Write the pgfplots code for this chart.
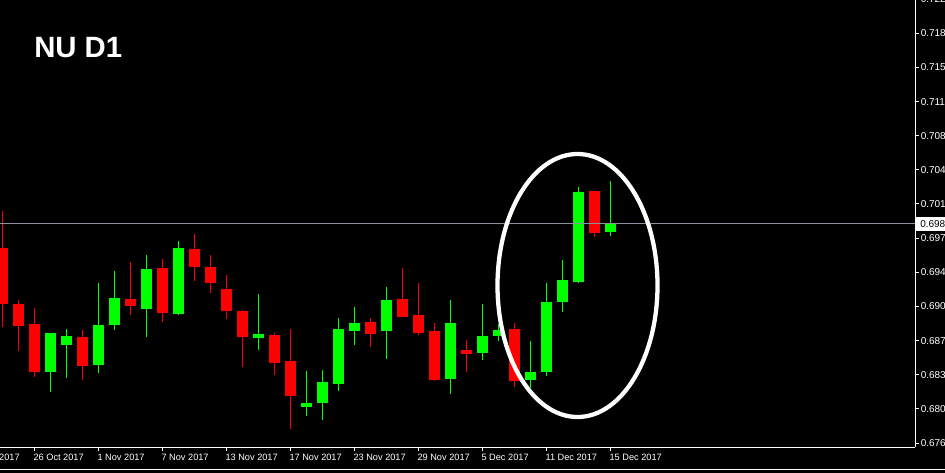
\documentclass[border=0pt]{standalone}
\usepackage{fontspec}
\setmainfont{Liberation Sans}
\usepackage{pgfplots}
\usepackage{pgfplotstable}
\pgfplotsset{compat=1.18}
\definecolor{cred}{RGB}{255,0,0}
\definecolor{cgreen}{RGB}{0,255,0}
\definecolor{bidgray}{RGB}{140,146,158}

% red (bearish) candles: k open high low close
\pgfplotstableread{
k o h l c
0 0.69652 0.70028 0.68842 0.69078
1 0.69075 0.69116 0.68596 0.68852
2 0.68870 0.69034 0.68330 0.68381
5 0.68737 0.68808 0.68296 0.68442
8 0.69126 0.69505 0.68965 0.69057
10 0.69444 0.69533 0.68893 0.68986
12 0.69639 0.69793 0.69314 0.69457
13 0.69454 0.69577 0.69191 0.69293
14 0.69229 0.69372 0.68924 0.69006
15 0.69003 0.69013 0.68432 0.68740
17 0.68757 0.68778 0.68350 0.68473
18 0.68491 0.68819 0.67797 0.68135
23 0.68890 0.68931 0.68637 0.68770
25 0.69126 0.69444 0.68945 0.68945
26 0.68962 0.69290 0.68760 0.68781
27 0.68798 0.68880 0.68289 0.68299
29 0.68603 0.68706 0.68381 0.68565
32 0.68819 0.68880 0.68227 0.68289
37 0.70233 0.70233 0.69765 0.69806
}\redtab

% green (bullish) candles: k open high low close
\pgfplotstableread{
k o h l c
3 0.68381 0.68778 0.68176 0.68778
4 0.68658 0.68819 0.68319 0.68747
6 0.68453 0.69290 0.68371 0.68860
7 0.68863 0.69413 0.68811 0.69136
9 0.69027 0.69577 0.68740 0.69434
11 0.68975 0.69721 0.68965 0.69649
16 0.68729 0.69177 0.68606 0.68767
19 0.68022 0.68388 0.67930 0.68063
20 0.68063 0.68398 0.67889 0.68278
21 0.68258 0.68931 0.68186 0.68819
22 0.68801 0.69044 0.68658 0.68880
24 0.68801 0.69249 0.68514 0.69116
28 0.68309 0.69116 0.68155 0.68880
30 0.68576 0.69075 0.68504 0.68747
31 0.68750 0.68870 0.68699 0.68808
33 0.68299 0.68696 0.68217 0.68381
34 0.68381 0.69290 0.68340 0.69095
35 0.69098 0.69526 0.68996 0.69321
36 0.69304 0.70274 0.69293 0.70223
38 0.69816 0.70336 0.69775 0.69895
}\greentab

\begin{document}
\begin{tikzpicture}
\fill[black] (-40pt,-10pt) rectangle (720pt,370pt);
\begin{axis}[
  at={(-30pt,18.75pt)}, anchor=south west,
  scale only axis, width=716.25pt, height=342.75pt,
  xmin=-2.644, xmax=57.044, ymin=0.67609, ymax=0.722937,
  axis x line*=bottom, axis y line*=right,
  axis line style={draw=white, line width=0.75pt, -},
  tick align=outside, major tick length=3pt,
  tick style={draw=white, line width=0.75pt},
  minor tick num=0,
  xtick={-2,2,6,10,14,18,22,26,30,34,38},
  xticklabels={20 Oct 2017,26 Oct 2017,1 Nov 2017,7 Nov 2017,13 Nov 2017,17 Nov 2017,23 Nov 2017,29 Nov 2017,5 Dec 2017,11 Dec 2017,15 Dec 2017},
  ytick={0.6765,0.6800,0.6835,0.6870,0.6905,0.6940,0.6975,0.7010,0.7045,0.7080,0.7115,0.7150,0.7185,0.7220},
  yticklabels={0.67650,0.68000,0.68350,0.68700,0.69050,0.69400,0.69750,0.70100,0.70450,0.70800,0.71150,0.71500,0.71850,0.72200},
  tick label style={font=\fontsize{6.9}{8}\selectfont, text=white},
  xticklabel style={anchor=west, inner sep=0pt, xshift=-0.75pt, yshift=-4.5pt},
  yticklabel style={anchor=west, inner sep=0pt, xshift=1.1pt, font=\fontsize{7.5}{9}\selectfont},
  /pgf/number format/assume math mode=true,
  clip=true,
]
% wicks
\addplot[draw=none, mark=none, forget plot, error bars/.cd, y dir=plus, y explicit, error mark=none,
  error bar style={draw=cred, line width=0.75pt}]
  table[x=k, y=l, y error plus expr={\thisrow{h}-\thisrow{l}}] {\redtab};
\addplot[draw=none, mark=none, forget plot, error bars/.cd, y dir=plus, y explicit, error mark=none,
  error bar style={draw=cgreen, line width=0.75pt}]
  table[x=k, y=l, y error plus expr={\thisrow{h}-\thisrow{l}}] {\greentab};
% bodies
\addplot[draw=none, mark=none, forget plot, error bars/.cd, y dir=plus, y explicit, error mark=none,
  error bar style={draw=cred, line width=8.25pt}]
  table[x=k, y=c, y error plus expr={\thisrow{o}-\thisrow{c}}] {\redtab};
\addplot[draw=none, mark=none, forget plot, error bars/.cd, y dir=plus, y explicit, error mark=none,
  error bar style={draw=cgreen, line width=8.25pt}]
  table[x=k, y=o, y error plus expr={\thisrow{c}-\thisrow{o}}] {\greentab};
% bid line
\addplot[bidgray, line width=0.75pt, forget plot] coordinates {(-2.644,0.69895) (57.044,0.69895)};
\coordinate (bid) at (axis cs:57.044,0.69895);
\end{axis}
\node[fill=white, text=black, anchor=west, inner xsep=3pt, inner ysep=0pt, minimum height=10.5pt,
  font=\fontsize{7.5}{9}\selectfont] at ([xshift=0.75pt]bid) {0.69895};
\begin{scope}[shift={(0pt,354pt)}, x=0.75pt, y=-0.75pt]
\node[anchor=base west, inner sep=0pt, text=white, font=\fontsize{22}{26}\selectfont\bfseries] at (34,58) {NU D1};
\draw[white, line width=3.2pt] (577.5,285.5) ellipse [x radius=80, y radius=131.5];
\draw[white, line width=1.2pt] (0,469.5) -- (945,469.5);
\end{scope}
\pgfresetboundingbox
\useasboundingbox (0,0) rectangle (708.75pt,354pt);
\end{tikzpicture}
\end{document}
